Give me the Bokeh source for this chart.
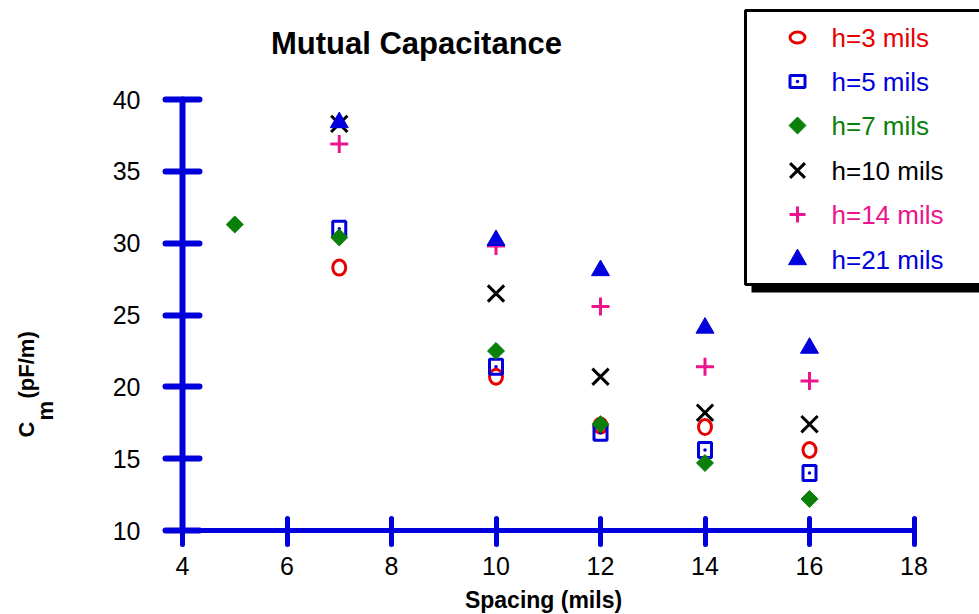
import numpy as np
from bokeh.plotting import figure
from bokeh.models import Range1d, LinearAxis, FixedTicker
from bokeh.core.properties import value
from bokeh.embed import file_html
from bokeh.resources import INLINE

# ---------------- data ----------------
spacing = [7, 10, 12, 14, 16]
spacing_h7 = [5, 7, 10, 12, 14, 16]
cm_h3 = [28.3, 20.7, 17.3, 17.2, 15.6]
cm_h5 = [31.0, 21.4, 16.8, 15.6, 14.0]
cm_h7 = [31.3, 30.4, 22.5, 17.4, 14.7, 12.2]
cm_h10 = [38.3, 26.5, 20.7, 18.2, 17.4]
cm_h14 = [36.9, 29.8, 25.6, 21.4, 20.4]
cm_h21 = [38.4, 30.2, 28.1, 24.1, 22.7]
series_labels = ["h=3 mils", "h=5 mils", "h=7 mils", "h=10 mils", "h=14 mils", "h=21 mils"]
x_ticks = [4, 6, 8, 10, 12, 14, 16, 18]
y_ticks = [10, 15, 20, 25, 30, 35, 40]
title_text = "Mutual Capacitance"
x_title = "Spacing (mils)"

# ---------------- style ----------------
W, H = 979, 614
RED = "#E60000"
BLUE = "#0000DD"
GREEN = "#0A800A"
BLACK = "#000000"
PINK = "#EC148C"
AXIS = "#0000DD"
FONT = "Liberation Sans"

# pixel layout of the plotting area
X0_PX, X1_PX = 182.0, 913.5   # x=4 and x=18
Y0_PX, Y1_PX = 530.0, 99.0    # y=10 and y=40
kx = (X1_PX - X0_PX) / (18 - 4)
ky = (Y0_PX - Y1_PX) / (40 - 10)
x_range = Range1d(4 - X0_PX / kx, 4 + (W - X0_PX) / kx)
y_range = Range1d(10 - (H - Y0_PX) / ky, 10 + Y0_PX / ky)

p = figure(width=W, height=H, x_range=x_range, y_range=y_range,
           x_axis_type=None, y_axis_type=None, title=None,
           toolbar_location=None, output_backend="svg", min_border=0)
p.outline_line_color = None
p.background_fill_color = "white"
p.border_fill_color = "white"
p.extra_x_ranges = {"px": Range1d(0, W)}
p.extra_y_ranges = {"py": Range1d(H, 0)}

# ---------------- axes ----------------
xaxis = LinearAxis(fixed_location=10, bounds=(4, 18), ticker=FixedTicker(ticks=x_ticks))
yaxis = LinearAxis(fixed_location=4, bounds=(10, 40), ticker=FixedTicker(ticks=y_ticks))
for ax in (xaxis, yaxis):
    ax.axis_line_color = AXIS
    ax.major_tick_line_color = AXIS
    ax.major_tick_line_cap = "round"
    ax.axis_line_cap = "round"
    ax.minor_tick_line_color = None
    ax.major_label_text_font = FONT
    ax.major_label_text_font_size = "25px"
    ax.major_label_text_color = "#000000"
xaxis.axis_line_width = 5
xaxis.major_tick_line_width = 5
xaxis.major_tick_in = 12
xaxis.major_tick_out = 14
xaxis.major_label_standoff = 12
yaxis.axis_line_width = 6
yaxis.major_tick_line_width = 6
yaxis.major_tick_in = 17
yaxis.major_tick_out = 17
yaxis.major_label_standoff = 25
p.add_layout(xaxis, "below")
p.add_layout(yaxis, "left")

# ---------------- data marks ----------------
p.ellipse(spacing, cm_h3, width=13, height=15, width_units="screen", height_units="screen",
          fill_color=None, line_color=RED, line_width=3)
p.rect(spacing, cm_h5, width=13, height=15, width_units="screen", height_units="screen",
       fill_color=None, line_color=BLUE, line_width=3)
p.scatter(spacing, cm_h5, marker="circle", size=3.5, fill_color=BLUE, line_color=None)
p.scatter(spacing_h7, cm_h7, marker="square", angle=np.pi / 4, size=12,
          fill_color=GREEN, line_color=GREEN, line_width=1)
p.scatter(spacing, cm_h10, marker="x", size=23, line_color=BLACK, line_width=3)
p.scatter(spacing, cm_h14, marker="cross", size=18, line_color=PINK, line_width=3)
p.scatter(spacing, cm_h21, marker="triangle", size=18, fill_color=BLUE, line_color=BLUE)

# ---------------- titles ----------------
p.text(x=[416], y=[43], text=[title_text], x_range_name="px", y_range_name="py",
       text_font=value(FONT), text_font_style="bold", text_font_size="31px",
       text_align="center", text_baseline="middle", text_color="#000000")
p.text(x=[543], y=[599], text=[x_title], x_range_name="px", y_range_name="py",
       text_font=value(FONT), text_font_style="bold", text_font_size="23px",
       text_align="center", text_baseline="middle", text_color="#000000")
# y title with subscript: C_m (pF/m), rotated
p.text(x=[26, 45, 26], y=[437, 420, 398], text=["C", "m", "(pF/m)"],
       x_range_name="px", y_range_name="py", angle=np.pi / 2,
       text_font=value(FONT), text_font_style="bold", text_font_size="22px",
       text_align="left", text_baseline="middle", text_color="#000000")

# ---------------- legend ----------------
p.quad(left=[751], right=[1000], top=[18], bottom=[292], x_range_name="px", y_range_name="py",
       fill_color="black", line_color=None)
p.quad(left=[745], right=[995], top=[10], bottom=[284], x_range_name="px", y_range_name="py",
       fill_color="white", line_color="black", line_width=3)
colors = [RED, BLUE, GREEN, BLACK, PINK, BLUE]
rows = [37, 81, 125, 170, 214, 259]
mx = 797
p.ellipse([mx], [rows[0]], width=15, height=11, x_range_name="px", y_range_name="py",
          fill_color=None, line_color=RED, line_width=3)
p.rect([mx], [rows[1]], width=15, height=12, x_range_name="px", y_range_name="py",
       fill_color=None, line_color=BLUE, line_width=3)
p.scatter([mx], [rows[1]], marker="circle", size=3.5, fill_color=BLUE, line_color=None,
          x_range_name="px", y_range_name="py")
p.scatter([mx], [rows[2]], marker="square", angle=np.pi / 4, size=12, fill_color=GREEN,
          line_color=GREEN, x_range_name="px", y_range_name="py")
p.scatter([mx], [rows[3]], marker="x", size=21, line_color=BLACK, line_width=3,
          x_range_name="px", y_range_name="py")
p.scatter([mx], [rows[4]], marker="cross", size=16, line_color=PINK, line_width=3,
          x_range_name="px", y_range_name="py")
p.scatter([mx], [rows[5]], marker="triangle", size=18, fill_color=BLUE, line_color=BLUE,
          x_range_name="px", y_range_name="py")
p.text(x=[831] * 6, y=rows, text=series_labels, text_color=colors,
       x_range_name="px", y_range_name="py", text_font=value(FONT), text_font_size="26px",
       text_align="left", text_baseline="middle")

open("out.html", "w").write(file_html(p, INLINE))
